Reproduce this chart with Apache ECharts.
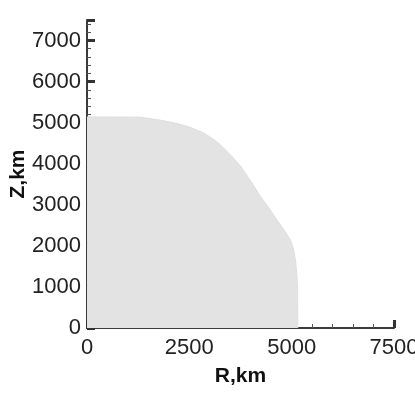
<!DOCTYPE html>
<html>
<head>
<meta charset="utf-8">
<title>R-Z</title>
<script src="https://cdn.jsdelivr.net/npm/echarts@6/dist/echarts.min.js"></script>
<style>
html, body { margin: 0; padding: 0; background: #fff; }
#container { width: 415px; height: 414px; }
</style>
</head>
<body>
<div id="container"></div>
<script type="text/javascript">
// boundary of the shaded region, R (km) and Z (km)
var rValues = [0, 1300, 1800, 2200, 2540, 2850, 3100, 3270, 3520, 3760, 4000, 4240, 4420, 4660, 4840, 4980, 5050, 5100, 5130, 5145, 5150];
var zValues = [5140, 5135, 5060, 4980, 4880, 4750, 4590, 4450, 4200, 3930, 3580, 3200, 2960, 2600, 2350, 2120, 1900, 1600, 1250, 900, 0];

var xMax = 7500, xStep = 2500;
var yMax = 7500, yStep = 1000;

var points = [];
for (var i = 0; i < rValues.length; i++) {
	points.push([rValues[i], zValues[i]]);
}

var myChart = echarts.init(document.getElementById('container'));

var axisCommon = {
	axisLine: { lineStyle: { color: '#3a3a3a', width: 2 } },
	axisTick: { inside: true, length: 8, lineStyle: { color: '#333', width: 3 } },
	minorTick: { show: true, splitNumber: 5, length: 4, lineStyle: { color: '#555', width: 1 } },
	splitLine: { show: false },
	axisLabel: {
		color: '#222', fontSize: 22, fontFamily: 'Liberation Sans',
		formatter: function (v) { return String(v); }
	},
	nameMoveOverlap: false,
	nameTextStyle: { color: '#111', fontSize: 21, fontWeight: 'bold', fontFamily: 'Liberation Sans' }
};

var option = {
	animation: false,
	grid: { left: 87, right: 21, top: 20, bottom: 86, containLabel: false, outerBoundsMode: 'none' },
	xAxis: echarts.util.merge({
		type: 'value',
		min: 0, max: xMax, interval: xStep,
		name: 'R,km', nameLocation: 'middle', nameGap: 38,
		axisLabel: { margin: 9, hideOverlap: false }
	}, axisCommon, false),
	yAxis: echarts.util.merge({
		type: 'value',
		min: 0, max: yMax, interval: yStep,
		name: 'Z,km', nameLocation: 'middle', nameGap: 58, nameRotate: 90,
		axisLabel: { margin: 6, showMaxLabel: false }
	}, axisCommon, false),
	series: [{
		type: 'line',
		data: points,
		showSymbol: false,
		smooth: false,
		lineStyle: { width: 1, color: '#dedede' },
		areaStyle: { color: '#e3e3e3', opacity: 1 },
		z: 1
	}]
};

myChart.setOption(option);
</script>
</body>
</html>
